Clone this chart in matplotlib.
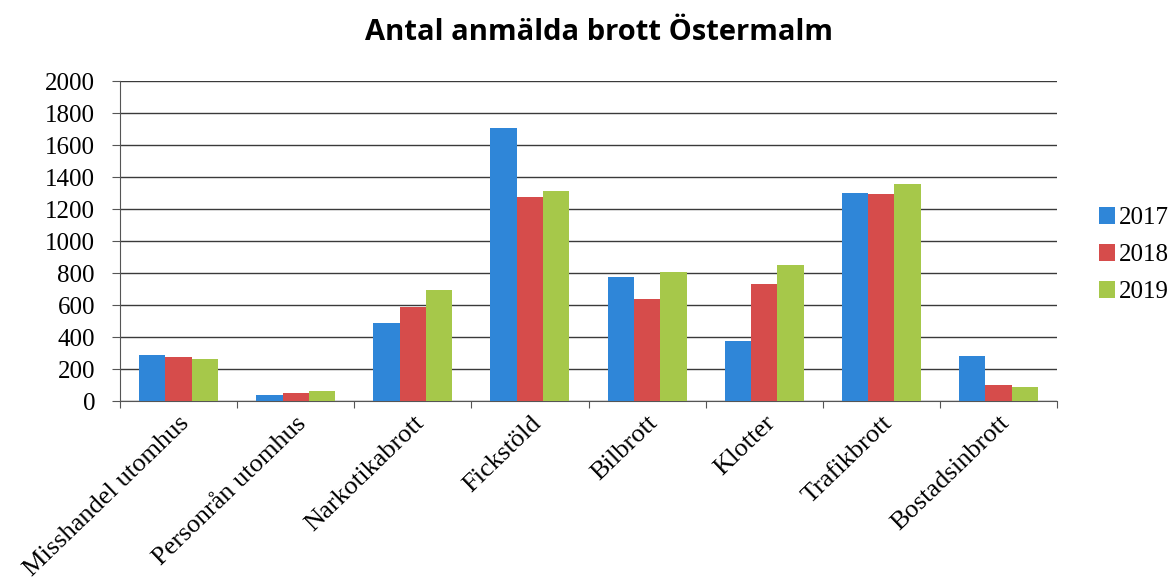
import matplotlib
matplotlib.use("Agg")
import matplotlib.pyplot as plt
import numpy as np
from matplotlib.patches import Patch

categories = ["Misshandel utomhus", "Personrån utomhus", "Narkotikabrott", "Fickstöld",
              "Bilbrott", "Klotter", "Trafikbrott", "Bostadsinbrott"]
years = ["2017", "2018", "2019"]
v2017 = [290, 37, 487, 1704, 775, 378, 1300, 280]
v2018 = [273, 52, 585, 1277, 635, 730, 1292, 100]
v2019 = [260, 65, 696, 1314, 805, 850, 1357, 90]
yticks = [0, 200, 400, 600, 800, 1000, 1200, 1400, 1600, 1800, 2000]

colors = ["#2f86d8", "#d64c4b", "#a6c84a"]

fig = plt.figure(figsize=(11.73, 5.88), dpi=100)
ax = fig.add_axes([120/1173, 1 - 401/588, (1057 - 120)/1173, (401 - 81)/588])

x = np.arange(len(categories))
w = 0.225
for i, (vals, c, lab) in enumerate(zip([v2017, v2018, v2019], colors, years)):
    ax.bar(x + (i - 1) * w, vals, width=w, color=c, label=lab, zorder=3)

ax.set_xlim(-0.5, len(categories) - 0.5)
ax.set_ylim(0, 2000)
ax.set_yticks(yticks)
ax.set_yticklabels([str(t) for t in yticks], fontfamily="Liberation Serif", fontsize=18)
ax.yaxis.grid(True, color="#3a3a3a", linewidth=1.0, zorder=0)
ax.set_axisbelow(True)

ax.set_xticks(np.arange(len(categories) + 1) - 0.5, minor=False)
ax.set_xticklabels([])
ax.set_xticks(x, minor=True)
ax.set_xticklabels(categories, minor=True, rotation=44, ha="right", va="top",
                   rotation_mode="anchor", fontfamily="Liberation Serif", fontsize=19)
ax.tick_params(axis="x", which="minor", length=0, pad=8)
ax.tick_params(axis="x", which="major", length=5, direction="out", color="#555555")
ax.tick_params(axis="y", length=6, direction="out", color="#555555", pad=12)

for s in ["top", "right"]:
    ax.spines[s].set_visible(False)
ax.spines["left"].set_color("#555555")
ax.spines["bottom"].set_color("#555555")

fig.text(599/1173, 1 - 32/588, "Antal anmälda brott Östermalm", ha="center", va="center",
         fontsize=21, fontweight="bold", fontfamily="Open Sans")

handles = [Patch(facecolor=c, label=l) for c, l in zip(colors, years)]
fig.legend(handles=handles, loc="center left", bbox_to_anchor=(1099/1173, 1 - 255/588),
           frameon=False, prop={"family": "Liberation Serif", "size": 18},
           handlelength=0.65, handleheight=0.65, handletextpad=0.15, labelspacing=0.6,
           borderpad=0, borderaxespad=0)

fig.savefig("out.png", dpi=100)
